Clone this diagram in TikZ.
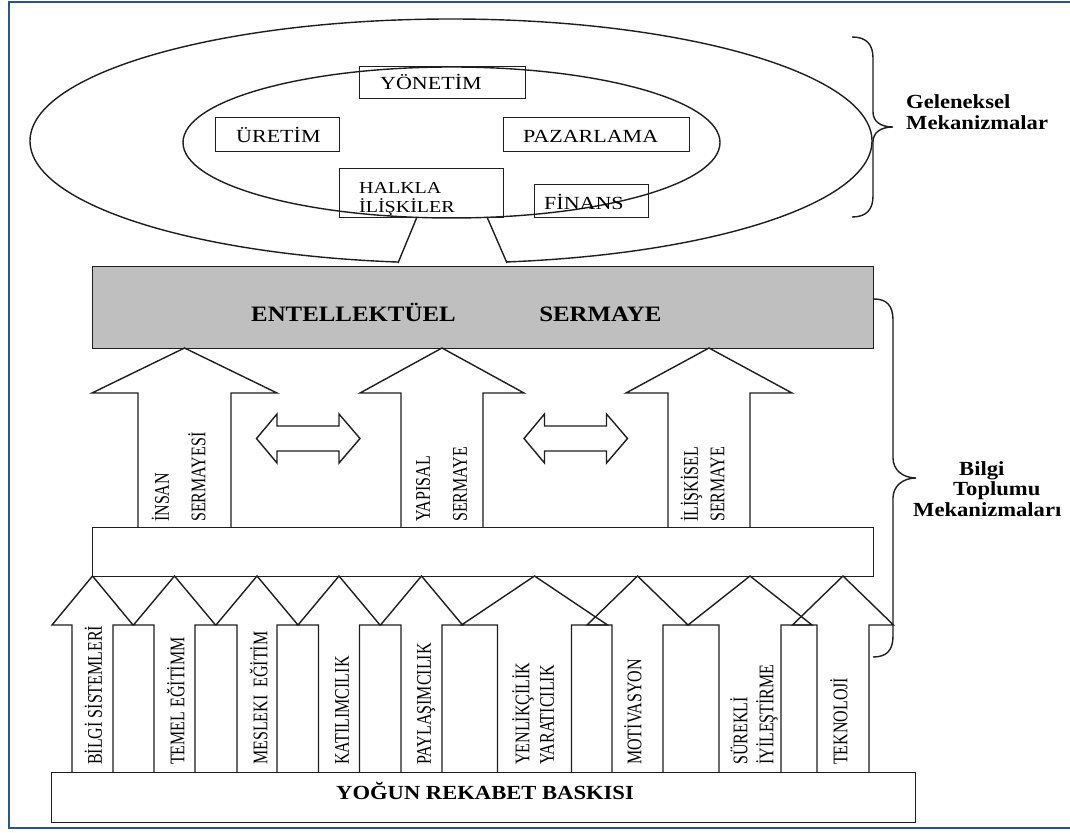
\documentclass[tikz,border=0pt]{standalone}
\usepackage{fontspec}
\usepackage{graphicx}
\setmainfont{Liberation Serif}

\definecolor{framecol}{RGB}{41,84,146}
\definecolor{capgray}{RGB}{191,191,191}
\definecolor{inkcol}{RGB}{30,30,30}

% widened horizontal text and heightened vertical text
\newcommand\wreg[1]{\scalebox{1.19}[1]{#1}}
\newcommand\wbold[1]{\scalebox{1.13}[1]{\bfseries #1}}
\newcommand\tall[1]{\scalebox{1}[1.3]{#1}}

% upward block arrow: centre x, shaft half width, head half width, tip y, shoulder y, foot y
\newcommand\riseArrow[6]{%
  \draw[outline] ({#1-#2},#6) -- ({#1-#2},#5) -- ({#1-#3},#5) -- (#1,#4)
    -- ({#1+#3},#5) -- ({#1+#2},#5) -- ({#1+#2},#6);}

% horizontal two-way block arrow: left tip, left shoulder, right shoulder, right tip, centre y
\newcommand\twoWay[5]{%
  \draw[outline] (#1,#5) -- (#2,{#5-24.5}) -- (#2,{#5-12.5}) -- (#3,{#5-12.5})
    -- (#3,{#5-24.5}) -- (#4,#5) -- (#3,{#5+24.5}) -- (#3,{#5+12.5})
    -- (#2,{#5+12.5}) -- (#2,{#5+24.5}) -- cycle;}

\begin{document}
\begin{tikzpicture}[x=1pt,y=-1pt,
  outline/.style={draw=inkcol, line width=1.4pt},
  box/.style={outline, rectangle, anchor=north west, inner sep=0pt},
  regtext/.style={anchor=base west, inner sep=0pt, font=\fontsize{18.5}{22}\selectfont},
  vlab/.style={rotate=90, anchor=west, inner sep=0pt, text height=13.6pt, text depth=0pt,
               font=\fontsize{16}{18}\selectfont},
  bracetext/.style={anchor=base west, inner sep=0pt, font=\fontsize{20}{20.5}\selectfont}]

\useasboundingbox (0,0) rectangle (1070,832);
\fill[white] (0,0) rectangle (1070,832);

% page frame
\draw[framecol, line width=2.8pt] (9,2) rectangle (1073,828);

% traditional mechanisms: two ellipses
\begin{scope}
  \clip (0,0) rectangle (1070,258) (0,258) rectangle (398,300) (507,258) rectangle (1070,300);
  \draw[outline] (451,141) ellipse [x radius=421, y radius=122];
\end{scope}
\draw[outline] (451.5,142.5) ellipse [x radius=268.5, y radius=75.5];

\node[box, minimum width=166pt, minimum height=32pt] (yon) at (359,66) {};
\node[box, minimum width=124.5pt, minimum height=34pt] (ure) at (214.5,117) {};
\node[box, minimum width=186pt, minimum height=34pt] (paz) at (503,117) {};
\node[box, minimum width=164pt, minimum height=49pt] (hal) at (339,168) {};
\node[box, minimum width=114pt, minimum height=33pt] (fin) at (534,184) {};

\node[regtext] (yonT) at (380,90) {\wreg{YÖNETİM}};
\node[regtext] (ureT) at (236,142.7) {\wreg{ÜRETİM}};
\node[regtext] (pazT) at (523,142.7) {\wreg{PAZARLAMA}};
\node[regtext] (finT) at (544,209) {\wreg{FİNANS}};
\node[anchor=base west, inner sep=0pt, font=\fontsize{16.8}{19}\selectfont] (halT) at (359,193)
  {\wreg{\begin{tabular}[t]{@{}l@{}}HALKLA\\İLİŞKİLER\end{tabular}}};

% funnel from the public relations box down to the capital bar
\coordinate (funLtop) at (417,217);
\coordinate (funRtop) at (487,217);
\coordinate (funLbot) at (398,263);
\coordinate (funRbot) at (507,263);
\draw[outline] (funLtop) -- (funLbot);
\draw[outline] (funRtop) -- (funRbot);

% intellectual capital bar
\node[box, fill=capgray, minimum width=781pt, minimum height=82pt] (ent) at (92,266) {};
\node[anchor=base west, inner sep=0pt, font=\fontsize{22}{24}\selectfont] (entT) at (251,321.5)
  {\wbold{ENTELLEKTÜEL\hspace{74pt}SERMAYE}};

% three capital arrows
\riseArrow{184.5}{46.5}{92.5}{348}{393}{527}
\riseArrow{442}{41}{82}{348}{393}{527}
\riseArrow{709}{41}{83}{348}{393}{527}

\twoWay{256.5}{277}{339}{360}{438.5}
\twoWay{524}{544.5}{606.5}{627.5}{438.5}

\node[vlab] (insA) at (162,522) {\tall{İNSAN}};
\node[vlab] (insB) at (198.5,522) {\tall{SERMAYESİ}};
\node[vlab] (yapA) at (423,522) {\tall{YAPISAL}};
\node[vlab] (yapB) at (460,522) {\tall{SERMAYE}};
\node[vlab] (iliA) at (691,522) {\tall{İLİŞKİSEL}};
\node[vlab] (iliB) at (717.5,522) {\tall{SERMAYE}};

% middle platform
\node[box, minimum width=781pt, minimum height=49pt] (plat) at (92,527) {};

% nine supporting arrows
\riseArrow{92.5}{20.5}{40.5}{576}{625}{772}
\riseArrow{174.5}{20.5}{41}{576}{625}{772}
\riseArrow{257}{20}{41}{576}{625}{772}
\riseArrow{339}{20.5}{41}{576}{625}{772}
\riseArrow{421.5}{20.5}{41}{576}{625}{772}
\riseArrow{534.5}{37}{73}{576}{625}{772}
\riseArrow{637.5}{25.5}{50.5}{576}{625}{772}
\riseArrow{750}{31}{62}{576}{625}{772}
\riseArrow{843}{26}{50.5}{576}{625}{772}

\node[vlab] (s1) at (95,765) {\tall{BİLGİ SİSTEMLERİ}};
\node[vlab] (s2) at (177.5,765) {\tall{TEMEL EĞİTİMM}};
\node[vlab] (s3) at (260.5,765) {\tall{MESLEKI\ \ EĞİTİM}};
\node[vlab] (s4) at (342,765) {\tall{KATILIMCILIK}};
\node[vlab] (s5) at (424,765) {\tall{PAYLAŞIMCILIK}};
\node[vlab] (s6a) at (522.5,765) {\tall{YENLİKÇİLİK}};
\node[vlab] (s6b) at (547,765) {\tall{YARATICILIK}};
\node[vlab] (s7) at (634.5,765) {\tall{MOTİVASYON}};
\node[vlab] (s8a) at (740.5,765) {\tall{SÜREKLİ}};
\node[vlab] (s8b) at (766.5,765) {\tall{İYİLEŞTİRME}};
\node[vlab] (s9) at (840.5,765) {\tall{TEKNOLOJİ}};

% base: competitive pressure
\node[box, minimum width=864pt, minimum height=50pt] (base) at (51,772) {};
\node[anchor=base west, inner sep=0pt, font=\fontsize{20}{22}\selectfont] (baseT) at (336,799)
  {\wbold{YOĞUN REKABET BASKISI}};

% braces and their captions
\draw[outline] (852,37) .. controls (866,37) and (873,44) .. (873,58) -- (873,112)
  .. controls (873,121) and (880,127) .. (893,127)
  .. controls (880,127) and (873,133) .. (873,142) -- (873,196)
  .. controls (873,210) and (866,217) .. (852,217);
\draw[outline] (874,299) .. controls (887,299) and (893,306) .. (893,320) -- (893,458)
  .. controls (893,470) and (903,478) .. (916,478)
  .. controls (903,478) and (893,486) .. (893,498) -- (893,636)
  .. controls (893,650) and (887,657) .. (873,657);

\node[bracetext] (gelT) at (906,109)
  {\wbold{\begin{tabular}[t]{@{}l@{}}Geleneksel\\Mekanizmalar\end{tabular}}};
\node[bracetext] (bilT) at (913,475)
  {\wbold{\begin{tabular}[t]{@{}l@{}}\hspace*{40.7pt}Bilgi\\\hspace*{35.4pt}Toplumu\\Mekanizmaları\end{tabular}}};

\end{tikzpicture}
\end{document}
